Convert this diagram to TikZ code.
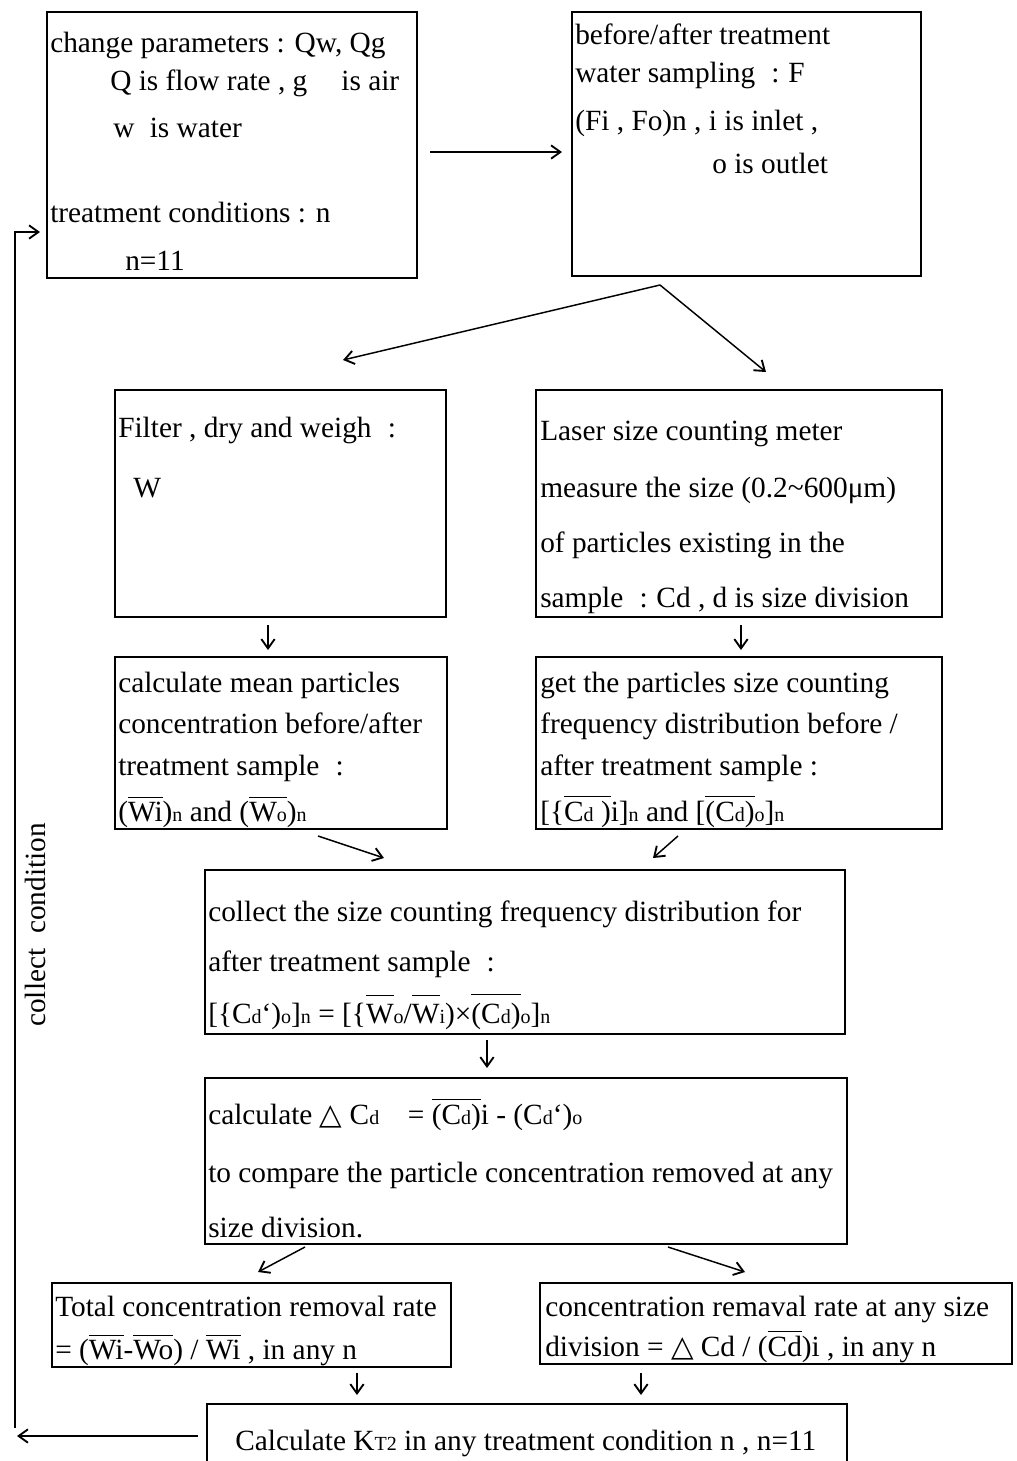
\documentclass[tikz,border=0pt]{standalone}
\usepackage{fontspec}
\setmainfont{Liberation Serif}
\newfontfamily\symfont{DejaVu Sans}
\usetikzlibrary{arrows.meta,fit,calc}
\newcommand\smx[1]{{\fontsize{15pt}{15pt}\selectfont #1}}
\newcommand\olx[2][2.5pt]{\vbox{\hrule height 0.8pt\kern#1\hbox{#2}}}
\newcommand\fcol{\hspace{0.3em}:\hspace{0.3em}}
\newcommand\trig{{\symfont △}}
\tikzset{
  box/.style={draw, line width=1.1pt, inner sep=0pt, outer sep=0pt},
  txt/.style={anchor=base west, inner sep=0pt, font=\fontsize{22pt}{26pt}\selectfont},
  arr/.style={-{Straight Barb[length=7pt,width=10pt,line width=1.4pt]}, line width=1.1pt},
}
\begin{document}
\begin{tikzpicture}[x=0.75pt,y=-0.75pt]
\useasboundingbox (0,0) rectangle (1017,1461);
\clip (0,0) rectangle (1017,1461);
\fill[white] (0,0) rectangle (1017,1461);

% boxes
\node[box, fit={(47,12) (417,278)}] (b1) {};
\node[box, fit={(572,12) (921,276)}] (b2) {};
\node[box, fit={(115,390) (446,617)}] (b3) {};
\node[box, fit={(536,390) (942,617)}] (b4) {};
\node[box, fit={(115,657) (447,829)}] (b5) {};
\node[box, fit={(536,657) (942,829)}] (b6) {};
\node[box, fit={(205,870) (845,1034)}] (b7) {};
\node[box, fit={(205,1078) (847,1244)}] (b8) {};
\node[box, fit={(52,1283) (451,1367)}] (b9) {};
\node[box, fit={(540,1283) (1012,1364)}] (b10) {};
\node[box, fit={(207,1404) (847,1480)}] (b11) {};

% texts box 1
\node[txt] (t1a) at (50,52) {change parameters : Qw, Qg};
\node[txt] (t1b) at (110,90) {Q is flow rate , g\hspace{20pt} is air};
\node[txt] (t1c) at (113,137) {w\hspace{6pt} is water};
\node[txt] (t1d) at (50,222) {treatment conditions : n};
\node[txt] (t1e) at (125,270) {n=11};
% box 2
\node[txt] (t2a) at (575,44) {before/after treatment};
\node[txt] (t2b) at (575,82) {water sampling \fcol F};
\node[txt] (t2c) at (575,130) {(Fi , Fo)n , i is inlet ,};
\node[txt] (t2d) at (712,173) {o is outlet};
% box 3
\node[txt] (t3a) at (118,437) {Filter , dry and weigh \fcol};
\node[txt] (t3b) at (133,497) {W};
% box 4
\node[txt] (t4a) at (540,440) {Laser size counting meter};
\node[txt] (t4b) at (540,497) {measure the size (0.2\textasciitilde600μm)};
\node[txt] (t4c) at (540,552) {of particles existing in the};
\node[txt] (t4d) at (540,607) {sample \fcol Cd , d is size division};
% box 5
\node[txt] (t5a) at (118,692) {calculate mean particles};
\node[txt] (t5b) at (118,733) {concentration before/after};
\node[txt] (t5c) at (118,775) {treatment sample \fcol};
\node[txt] (t5d) at (118,821) {(\olx{Wi})\smx{n} and (\olx{W\smx{o}})\smx{n}};
% box 6
\node[txt] (t6a) at (540,692) {get the particles size counting};
\node[txt] (t6b) at (540,733) {frequency distribution before /};
\node[txt] (t6c) at (540,775) {after treatment sample :};
\node[txt] (t6d) at (540,821) {[\{\olx{C\smx{d} )}i]\smx{n} and [\olx{(C\smx{d})}\smx{o}]\smx{n}};
% box 7
\node[txt] (t7a) at (208,921) {collect the size counting frequency distribution for};
\node[txt] (t7b) at (208,971) {after treatment sample \fcol};
\node[txt] (t7c) at (208,1023) {[\{C\smx{d}‘)\smx{o}]\smx{n} = [\{\olx[6pt]{W}\smx{o}/\olx[6pt]{W}\smx{i})×\olx[6pt]{(C\smx{d})}\smx{o}]\smx{n}};
% box 8
\node[txt] (t8a) at (208,1124) {calculate \trig{} C\smx{d}\hspace{16pt} = \olx{(C\smx{d})}i - (C\smx{d}‘)\smx{o}};
\node[txt] (t8b) at (208,1182) {to compare the particle concentration removed at any};
\node[txt] (t8c) at (208,1237) {size division.};
% box 9
\node[txt] (t9a) at (55,1316) {Total concentration removal rate};
\node[txt] (t9b) at (55,1359) {= (\olx{Wi}-\olx{Wo}) / \olx{Wi} , in any n};
% box 10
\node[txt] (t10a) at (545,1316) {concentration remaval rate at any size};
\node[txt] (t10b) at (545,1356) {division = \trig{} Cd / (\olx{Cd})i , in any n};
% box 11
\node[txt] (t11a) at (235,1450) {Calculate K\smx{T2} in any treatment condition n , n=11};
% side label
\node[inner sep=0pt, rotate=90, font=\fontsize{22pt}{26pt}\selectfont] (lab) at (35,925) {collect\ \ condition};

% connectors
\draw[arr] ($(b1.east)+(13,7)$) -- ($(b2.west)+(-10,8)$);
\coordinate (sp) at ($(b2.south)+(-86.5,9)$);
\draw[arr] (sp) -- ($(b3.north)+(62.5,-30)$);
\draw[arr] (sp) -- ($(b4.north)+(27,-18)$);
\draw[arr] ($(b3.south)+(-12.5,8)$) -- ($(b5.north)+(-13,-7)$);
\draw[arr] ($(b4.south)+(2,8)$) -- ($(b6.north)+(2,-7)$);
\draw[arr] ($(b5.south)+(37,7)$) -- ($(b7.north)+(-141,-12)$);
\draw[arr] ($(b6.south)+(-61,7)$) -- ($(b7.north)+(128,-12)$);
\draw[arr] ($(b7.south)+(-38,6)$) -- ($(b8.north)+(-39,-10)$);
\draw[arr] ($(b8.south)+(-221,3)$) -- ($(b9.north)+(6.5,-11)$);
\draw[arr] ($(b8.south)+(142,3)$) -- ($(b10.north)+(-31,-11)$);
\draw[arr] ($(b9.south)+(105.5,6)$) -- ($(b11.north)+(-170,-9)$);
\draw[arr] ($(b10.south)+(-135,9)$) -- ($(b11.north)+(114,-9)$);
% feedback loop
\coordinate (fbend) at (17,1436);
\draw[arr] ($(b11.west)+(-9,-6)$) -- (fbend);
\coordinate (fbbot) at (15,1428);
\coordinate (fbtop) at (15,232);
\draw[arr] (fbbot) -- (fbtop) -- ($(b1.west)+(-7,87)$);
\end{tikzpicture}
\end{document}
